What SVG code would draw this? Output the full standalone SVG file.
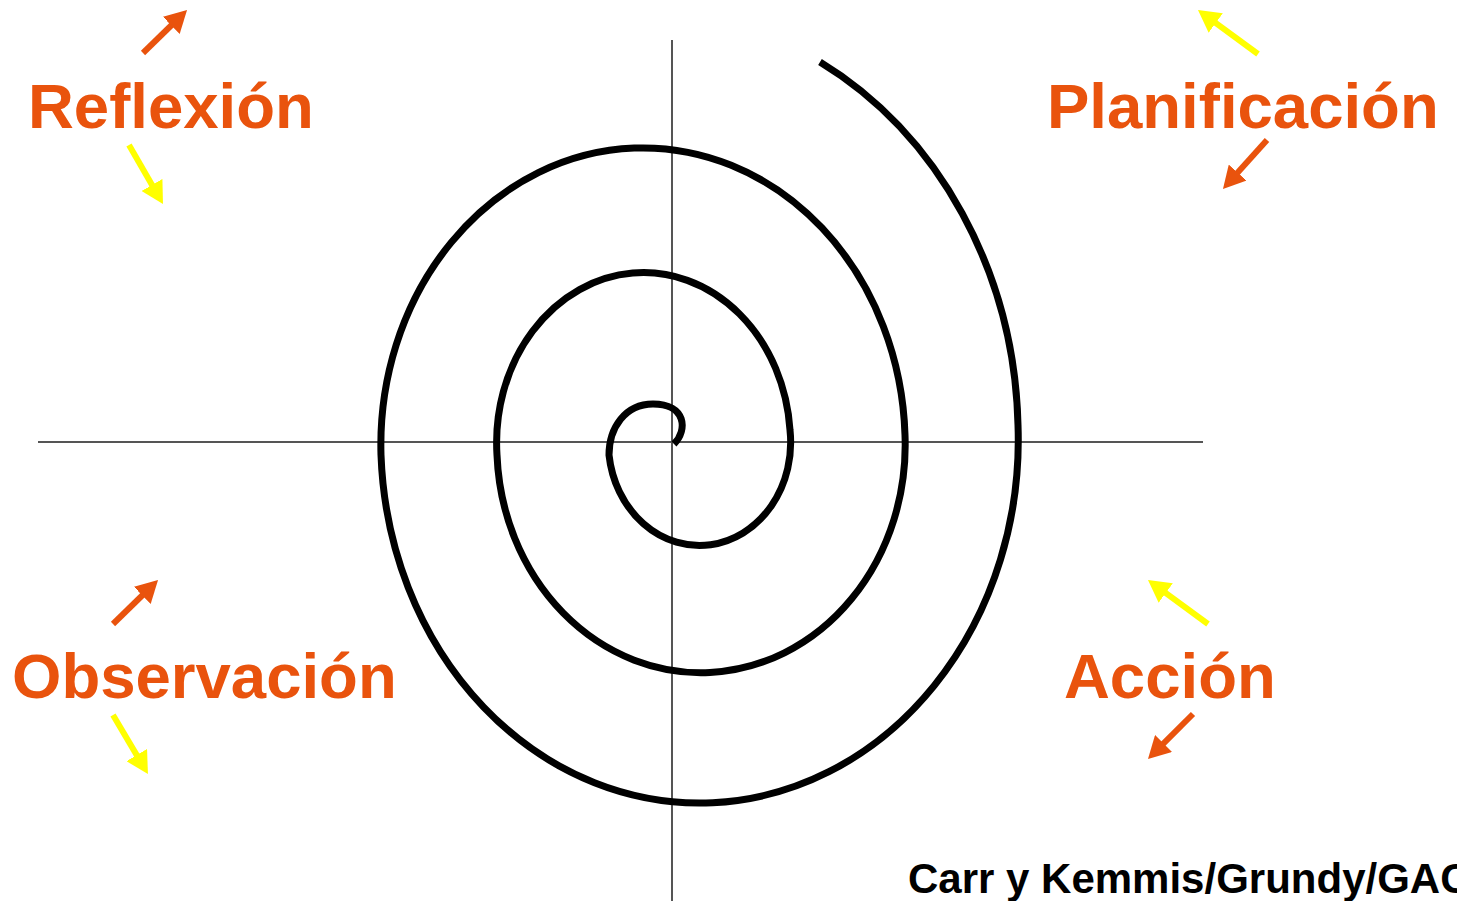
<svg xmlns="http://www.w3.org/2000/svg" width="1457" height="901" viewBox="0 0 1457 901">
<style>
.lbl{font-family:"Liberation Sans",Arial,sans-serif;font-weight:bold;font-size:63.5px;fill:#E9530D}
.cred{font-family:"Liberation Sans",Arial,sans-serif;font-weight:bold;font-size:42px;fill:#000}
.axis{stroke:#555;stroke-width:2;fill:none}
.spiral{stroke:#000;stroke-width:7;fill:none;stroke-linecap:butt}
.ao{stroke:#E9530D;stroke-width:6;marker-end:url(#mo)}
.ay{stroke:#FFFF00;stroke-width:6;marker-end:url(#my)}
</style>
<defs>
<marker id="mo" markerUnits="userSpaceOnUse" markerWidth="22" markerHeight="24" refX="7" refY="12" orient="auto"><path d="M0,0 L22,12 L0,24 z" fill="#E9530D"/></marker>
<marker id="my" markerUnits="userSpaceOnUse" markerWidth="22" markerHeight="24" refX="7" refY="12" orient="auto"><path d="M0,0 L22,12 L0,24 z" fill="#FFFF00"/></marker>
</defs>
<rect width="1457" height="901" fill="#fff"/>
<g id="axes">
<line class="axis" x1="672" y1="40" x2="672" y2="901"/>
<line class="axis" x1="38" y1="442" x2="1203" y2="442"/>
</g>
<g id="spiral">
<path class="spiral" d="M674 444 C688 430 686 404 653 404 C625 404 609 428 609 455 A85 96 0 0 0 790 430 A140 162 0 0 0 497 455 A200 223 0 0 0 905 435 A255 289 0 0 0 381 455 A310 353 0 0 0 1018 425 A376 425 0 0 0 820 62"/>
</g>
<g id="connectors">
<line class="ao" x1="143" y1="53" x2="176.3" y2="20.5"/>
<line class="ay" x1="129" y1="145" x2="155.5" y2="191"/>
<line class="ay" x1="1258" y1="54" x2="1210.1" y2="18.9"/>
<line class="ao" x1="1267" y1="140" x2="1233" y2="177.8"/>
<line class="ao" x1="113" y1="624" x2="147.3" y2="590.5"/>
<line class="ay" x1="113" y1="715" x2="140.3" y2="761.1"/>
<line class="ay" x1="1208" y1="624" x2="1160.1" y2="588.9"/>
<line class="ao" x1="1193" y1="714" x2="1158.6" y2="748.4"/>
</g>
<g id="reflexion"><text class="lbl" x="28" y="128">Reflexión</text></g>
<g id="planificacion"><text class="lbl" x="1047" y="128">Planificación</text></g>
<g id="observacion"><text class="lbl" x="12" y="698">Observación</text></g>
<g id="accion"><text class="lbl" x="1064" y="698">Acción</text></g>
<g id="credit"><text class="cred" x="908" y="893">Carr y Kemmis/Grundy/GAC</text></g>
</svg>
